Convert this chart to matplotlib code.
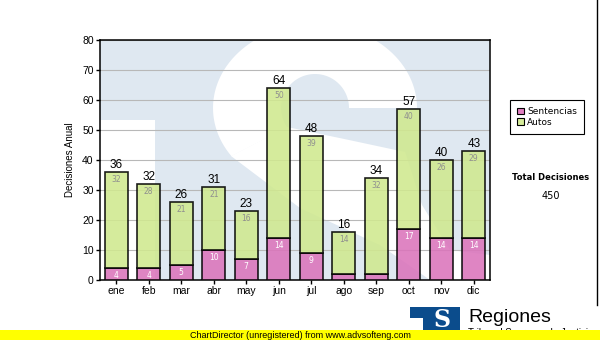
import matplotlib.pyplot as plt
import numpy as np
from matplotlib.patches import Polygon, Rectangle, Patch

meses = ['ene', 'feb', 'mar', 'abr', 'may', 'jun', 'jul', 'ago', 'sep', 'oct', 'nov', 'dic']
sentencias = [4, 4, 5, 10, 7, 14, 9, 2, 2, 17, 14, 14]
autos = [32, 28, 21, 21, 16, 50, 39, 14, 32, 40, 26, 29]

total = np.array(sentencias) + np.array(autos)

W, H = 600, 340
fig = plt.figure(figsize=(W / 100, H / 100), dpi=100)

# plot area in pixels
px0, px1, py0, py1 = 100, 490, 40, 280
pos = [px0 / W, 1 - py1 / H, (px1 - px0) / W, (py1 - py0) / H]

# background logo behind the bars
bg = fig.add_axes(pos, zorder=0)
bg.set_xlim(px0, px1)
bg.set_ylim(py1, py0)
bg.axis('off')
bg.add_patch(Rectangle((px0, py0), px1 - px0, py1 - py0, color='#dfe8f1', lw=0))
bg.add_patch(Rectangle((px0, 120), 55, 160, color='white', lw=0))

cx, cy = 315, 108
th = np.radians(np.linspace(0, 215, 80))
outer = np.c_[cx + 102 * np.cos(th), cy - 84 * np.sin(th)]
inner = np.c_[cx + 34 * np.cos(th), cy - 34 * np.sin(th)][::-1]
bg.add_patch(Polygon(np.vstack([outer, inner]), color='white', lw=0))
spine = [(231, 156), (287, 127), (349, 140), (405, 152), (422, 205), (450, 250),
         (490, 255), (490, 280), (430, 280), (380, 245), (300, 208)]
bg.add_patch(Polygon(spine, color='white', lw=0))

ax = fig.add_axes(pos, zorder=1)
ax.patch.set_alpha(0)
x = np.arange(len(meses))
bw = 0.7
ax.bar(x, sentencias, bw, color='#db74bb', edgecolor='black', linewidth=1.2, alpha=0.88, zorder=3)
ax.bar(x, autos, bw, bottom=sentencias, color='#d0e98f', edgecolor='black', linewidth=1.2, alpha=0.88, zorder=3)

for i in range(len(meses)):
    ax.annotate(str(total[i]), (x[i], total[i]), xytext=(0, 0.5), textcoords='offset points',
                ha='center', va='bottom', fontsize=8.5, family='Liberation Sans', zorder=5)
    if autos[i] >= 4:
        ax.annotate(str(autos[i]), (x[i], total[i]), xytext=(0, -2.5), textcoords='offset points',
                    ha='center', va='top', fontsize=5.5, color='#8f8f8f', zorder=5)
    if sentencias[i] >= 4:
        ax.annotate(str(sentencias[i]), (x[i], sentencias[i]), xytext=(0, -2.5), textcoords='offset points',
                    ha='center', va='top', fontsize=5.5, color='white', zorder=5)

ax.set_xlim(-0.5, len(meses) - 0.5)
ax.set_ylim(0, 80)
ax.set_yticks(range(0, 81, 10))
ax.set_xticks(x)
ax.set_xticklabels(meses)
ax.yaxis.grid(True, color='#b8b8b8', linewidth=0.8, zorder=1)
ax.set_axisbelow(True)
for s in ax.spines.values():
    s.set_linewidth(1.1)
ax.tick_params(axis='both', labelsize=7.5, width=1, length=3, pad=1.5)
for t in ax.get_xticklabels() + ax.get_yticklabels():
    t.set_family('Liberation Sans')
ax.set_ylabel('Decisiones Anual', fontsize=7, family='Liberation Sans', labelpad=5)

leg = fig.legend(handles=[Patch(facecolor='#e07ec0', edgecolor='black', linewidth=0.8, label='Sentencias'),
                          Patch(facecolor='#d6ec9a', edgecolor='black', linewidth=0.8, label='Autos')],
                 loc='upper left', bbox_to_anchor=(510 / W, 1 - 100 / H), fontsize=6.5,
                 fancybox=False, edgecolor='black', framealpha=1, handlelength=0.75, handleheight=0.75,
                 handletextpad=0.35, labelspacing=0.15, borderpad=0.8, borderaxespad=0)
leg.get_frame().set_linewidth(0.8)

fig.text(551 / W, 1 - 178 / H, 'Total Decisiones', ha='center', va='center', fontsize=6, weight='bold')
fig.text(551 / W, 1 - 196 / H, str(total.sum()), ha='center', va='center', fontsize=7)

# frame line on the right edge
fig.add_artist(plt.Line2D([597 / W, 597 / W], [1 - 305 / H, 1], color='black', lw=1))

# logo block at the bottom
fig.add_artist(Rectangle((410 / W, 1 - 331 / H), 50 / W, 24 / H, transform=fig.transFigure,
                         color='#0b4c8c', lw=0))
fig.add_artist(Rectangle((410 / W, 1 - 331 / H), 13 / W, 13 / H, transform=fig.transFigure,
                         color='white', lw=0))
fig.text(442 / W, 1 - 320 / H, 'S', ha='center', va='center', fontsize=17, weight='bold',
         color='white', family='DejaVu Serif')
fig.text(468 / W, 1 - 322 / H, 'Regiones', ha='left', va='baseline', fontsize=14, family='Liberation Sans')
fig.text(468 / W, 1 - 336 / H, 'Tribunal Supremo de Justicia', ha='left', va='baseline', fontsize=7,
         family='Liberation Sans')

fig.add_artist(Rectangle((0, 0), 1, 10 / H, transform=fig.transFigure, color='#ffff00', lw=0, zorder=10))
fig.text(190 / W, 5 / H, 'ChartDirector (unregistered) from www.advsofteng.com', ha='left', va='center',
         fontsize=6.5, family='Liberation Sans', zorder=11)

fig.savefig('out.png', dpi=100)
